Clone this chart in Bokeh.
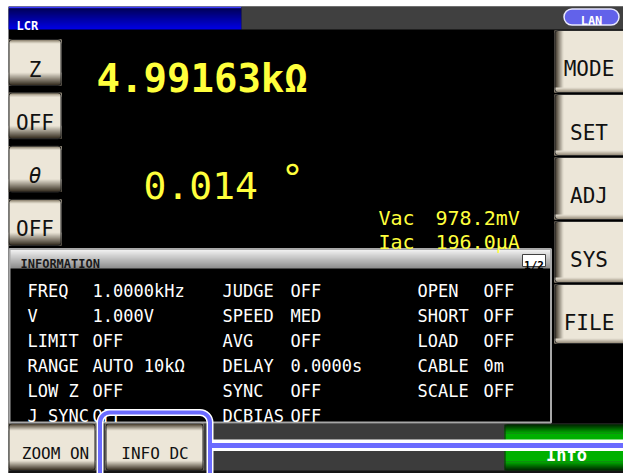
from bokeh.plotting import figure
from bokeh.models import Range1d, ColumnDataSource
from bokeh.core.properties import value
from bokeh.embed import file_html
from bokeh.resources import INLINE

# ---------------- data (texts shown on the LCR screen) ----------------
status_title = "LCR"
interface_label = "LAN"
param_buttons = ["Z", "OFF", "θ", "OFF"]
param_styles = ["normal", "normal", "italic", "normal"]
menu_buttons = ["MODE", "SET", "ADJ", "SYS", "FILE"]
bottom_buttons = ["ZOOM ON", "INFO DC"]
trigger_label = "Info"
primary_reading = "4.99163kΩ"
secondary_reading = "0.014"
secondary_unit = "°"
monitor_labels = ["Vac", "Iac"]
monitor_values = ["978.2mV", "196.0µA"]
info_title = "INFORMATION"
info_page = "1/2"
col1_labels = ["FREQ", "V", "LIMIT", "RANGE", "LOW Z", "J SYNC"]
col1_values = ["1.0000kHz", "1.000V", "OFF", "AUTO  10kΩ", "OFF", "OFF"]
col2_labels = ["JUDGE", "SPEED", "AVG", "DELAY", "SYNC", "DCBIAS"]
col2_values = ["OFF", "MED", "OFF", "0.0000s", "OFF", "OFF"]
col3_labels = ["OPEN", "SHORT", "LOAD", "CABLE", "SCALE"]
col3_values = ["OFF", "OFF", "OFF", "0m", "OFF"]

# ---------------- styling helpers ----------------
MONO = value("DejaVu Sans Mono")
BEIGE = "#ece6d8"
DARKBROWN = "#2e2619"
YELLOW = "#ffff3c"
BLUE_HI = "#6b6bff"


def mix(c0, c1, t):
    a = [int(c0[i:i + 2], 16) for i in (1, 3, 5)]
    b = [int(c1[i:i + 2], 16) for i in (1, 3, 5)]
    return "#%02x%02x%02x" % tuple(round(a[k] + (b[k] - a[k]) * t) for k in range(3))


Q = dict(left=[], right=[], top=[], bottom=[], color=[])


def box(l, r, t, b, c):
    Q["left"].append(l); Q["right"].append(r)
    Q["top"].append(t); Q["bottom"].append(b); Q["color"].append(c)


def vgrad(l, r, t, b, c0, c1, n=None):
    n = n or max(2, int(round(b - t)))
    for i in range(n):
        y0 = t + (b - t) * i / n
        y1 = t + (b - t) * (i + 1) / n
        box(l, r, y0, min(b, y1 + 0.6), mix(c0, c1, (i + 0.5) / n))


def hgrad(l, r, t, b, c0, c1, n=None):
    n = n or max(2, int(round(r - l)))
    for i in range(n):
        x0 = l + (r - l) * i / n
        x1 = l + (r - l) * (i + 1) / n
        box(x0, min(r, x1 + 0.6), t, b, mix(c0, c1, (i + 0.5) / n))


p = figure(width=623, height=473, x_range=Range1d(8, 623), y_range=Range1d(473, 6),
           output_backend="svg", toolbar_location=None,
           min_border_left=8, min_border_top=6, min_border_right=0, min_border_bottom=0)
p.axis.visible = False
p.grid.visible = False
p.outline_line_color = None
p.background_fill_color = "#000000"
p.border_fill_color = "#ffffff"

# ---- top status bar ----
box(8, 241, 6, 8, "#3a3aff")
vgrad(8, 241, 8, 29, "#00005a", "#0000e8")
box(241, 623, 6, 29, "#404040")

# ---- left parameter buttons ----
lb_tops = [39 + 53.3 * i for i in range(len(param_buttons))]
for t in lb_tops:
    box(8, 61, t, t + 46, BEIGE)
    vgrad(8, 61, t, t + 4, "#7a6f5a", BEIGE)
    vgrad(8, 61, t + 33, t + 46, BEIGE, DARKBROWN)

# ---- right menu buttons ----
rb_tops = [30, 94, 157, 221, 284]
rb_bots = [92, 155, 219, 282, 343]
for t, b in zip(rb_tops, rb_bots):
    box(554, 623, t, b, BEIGE)
    hgrad(554, 563, t, b, DARKBROWN, BEIGE)
    vgrad(554, 623, b - 5, b, BEIGE, "#8d8270")

# ---- information panel ----
vgrad(9, 550, 249, 268, "#f4f4f4", "#8a8a8a")
box(522, 545, 254, 266, "#ffffff")

# ---- bottom bar ----
box(8, 623, 423, 473, "#3c3c3c")
bb_l = [8, 105]
bb_r = [95, 203]
for l, r in zip(bb_l, bb_r):
    box(l, r, 423, 470, BEIGE)
    vgrad(l, r, 423, 430, "#3a3020", BEIGE)
    vgrad(l, r, 460, 470, BEIGE, DARKBROWN)
box(8, 623, 470, 473, "#141414")
# green trigger button
vgrad(504, 623, 424, 433, "#002200", "#00b000")
box(504, 623, 433, 461, "#00b000")
vgrad(504, 623, 461, 470, "#00b000", "#002200")

src = ColumnDataSource(Q)
p.quad(left="left", right="right", top="top", bottom="bottom", fill_color="color",
       line_color=None, source=src)

# outlines
p.quad(left=[8.5] * 4, right=[60.5] * 4, top=lb_tops, bottom=[t + 46 for t in lb_tops],
       fill_alpha=0, line_color="#222222", line_width=1, border_radius=3)
p.quad(left=[l + 0.5 for l in bb_l], right=[r - 0.5 for r in bb_r], top=[423] * 2, bottom=[470] * 2,
       fill_alpha=0, line_color="#222222", line_width=1, border_radius=3)
p.quad(left=[554.5] * 5, right=[640] * 5, top=rb_tops, bottom=rb_bots,
       fill_alpha=0, line_color="#2a2a2a", line_width=1, border_radius=3)
p.quad(left=[504.5], right=[640], top=[424], bottom=[470], fill_alpha=0,
       line_color="#0c2a0c", line_width=1, border_radius=3)
p.quad(left=[9], right=[550.5], top=[248.5], bottom=[422], fill_alpha=0,
       line_color="#a8a8a8", line_width=2)
p.quad(left=[522], right=[545], top=[254], bottom=[266], fill_alpha=0,
       line_color="#404040", line_width=1)

# LAN pill
p.quad(left=[563.5], right=[618.5], top=[8.5], bottom=[24.5], fill_color="#6262ea",
       line_color="#e8e8ff", line_width=1.5, border_radius=8)


def texts(xs, ys, tx, size, color, align="left", style="normal"):
    p.text(x=xs, y=ys, text=tx, text_font=MONO, text_font_size=size,
           text_color=color, text_align=align, text_baseline="alphabetic",
           text_font_style=style)


texts([16], [25], [status_title], "12px", "#ffffff", style="bold")
texts([591], [20.5], [interface_label], "12px", "#ffffff", align="center", style="bold")

for t, lab, st in zip(lb_tops, param_buttons, param_styles):
    texts([34.5], [t + 30], [lab], "21px", "#111111", align="center", style=st)
texts([588.5] * 5, [t + 38 for t in rb_tops], menu_buttons, "21px", "#111111", align="center")
texts([55, 154.5], [453, 453], bottom_buttons, "16px", "#111111", align="center")
texts([566], [454], [trigger_label], "17px", "#ffffff", align="center", style="bold")

texts([96], [78], [primary_reading], "39px", YELLOW, style="bold")
texts([143], [185], [secondary_reading], "38px", YELLOW)
texts([292], [177], [secondary_unit], "38px", YELLOW, align="center")
texts([378, 378], [217, 241], monitor_labels, "20px", YELLOW)
texts([435, 435], [217, 241], monitor_values, "20px", YELLOW)

texts([20], [263.5], [info_title], "12px", "#1a1a1a", style="bold")
texts([533.5], [264.5], [info_page], "11px", "#000000", align="center", style="bold")

row_y = [290 + 25 * i for i in range(6)]
texts([27] * 6, row_y, col1_labels, "17px", "#ffffff")
texts([92] * 6, row_y, col1_values, "17px", "#ffffff")
texts([222] * 6, row_y, col2_labels, "17px", "#ffffff")
texts([290] * 6, row_y, col2_values, "17px", "#ffffff")
texts([417] * 5, row_y[:5], col3_labels, "17px", "#ffffff")
texts([483] * 5, row_y[:5], col3_values, "17px", "#ffffff")

# highlight frame around INFO DC and connector line
p.quad(left=[99.5], right=[209.5], top=[412], bottom=[520], fill_alpha=0,
       line_color="#ffffff", line_width=7, border_radius=10)
p.quad(left=[99.5], right=[209.5], top=[412], bottom=[520], fill_alpha=0,
       line_color=BLUE_HI, line_width=4, border_radius=10)
p.quad(left=[212], right=[623], top=[439], bottom=[450.5], fill_color="#ffffff", line_color=None)
p.quad(left=[209], right=[623], top=[442.5], bottom=[447.5], fill_color=BLUE_HI, line_color=None)

open("out.html", "w").write(file_html(p, INLINE))
